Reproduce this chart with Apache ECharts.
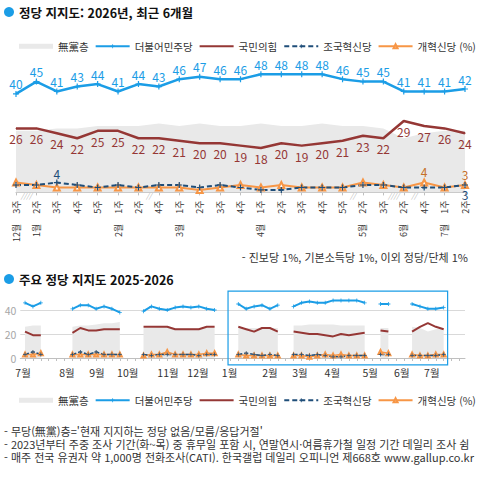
<!DOCTYPE html>
<html lang="ko">
<head>
<meta charset="UTF-8">
<title>정당 지지도</title>
<style>
    html, body { margin: 0; padding: 0; background: #fff; }
    #chart { width: 482px; height: 477px; }
</style>
<script src="https://cdn.jsdelivr.net/npm/echarts@6/dist/echarts.min.js"></script>
</head>
<body>
<div id="chart"></div>
<script>
var FONT = '"Noto Sans CJK KR", "Noto Sans", sans-serif';

// ---- top chart: 최근 6개월 (weekly) ----
var weekNames  = ['3주','2주','3주','4주','5주','1주','2주','4주','1주','2주','3주','4주','1주','2주','3주','4주','5주','2주','3주','2주','4주','1주','2주'];
var monthNames = ['12월','1월','','','','2월','','','3월','','','','4월','','','','','5월','','6월','','7월',''];
var muDang  = [25,25,26,26,27,27,27,28,27,28,27,27,28,27,27,28,27,27,26,22,24,25,25];
var minju   = [40,45,41,43,44,41,44,43,46,47,46,46,48,48,48,48,46,45,45,41,41,41,42];
var ppp     = [26,26,24,22,25,25,22,22,21,20,20,19,18,20,19,20,21,23,22,29,27,26,24];
var joguk   = [3,3,4,3,2,3,2,3,3,2,3,2,1,1,2,2,2,3,3,2,2,2,3];
var gaehyuk = [4,3,2,2,2,2,2,2,2,1,2,3,2,3,2,2,2,4,3,2,4,2,3];
var jogukLabeled   = [2, 22];
var gaehyukLabeled = [20, 22];
// skipped survey weeks (after index i)
var gapAfter = [0, 6, 16, 18, 19];
var gapText  = ['////', '//', '//', '////', '//'];

// ---- bottom chart: 2025-2026 trend ----
var trendWeeks = [0,1,2, 6,7,8,9,10,11,12, 15,16,17,18,19,20,21,22,23,24,
                  27,28,29,30,31,32, 34,35,36,37,38,39,40,41,42,43, 45,46, 49,50,51,52,53];
var trendMuDang  = [26,27,27, 26,27,27,28,29,29,30, 25,25,26,26,25,25,25,25,25,25,
                    25,25,25,25,25,25, 27,27,28,28,28,28,27,27,27,27, 25,25, 26,25,22,24,25];
var trendMinju   = [46,43,46, 41,44,44,41,43,41,38, 39,43,41,40,42,43,42,43,41,40,
                    45,41,43,44,41,44, 43,46,47,46,46,48,48,48,48,46, 45,45, 45,43,41,41,42];
var trendPpp     = [22,19,19, 21,25,23,23,24,24,24, 26,26,26,26,24,24,24,24,26,26,
                    26,24,22,25,25,22, 22,21,20,20,19,18,20,19,20,21, 23,22, 22,26,29,26,24];
var trendJoguk   = [3,5,3, 3,5,3,5,3,3,3, 3,2,3,3,3,3,3,2,3,3,
                    3,4,3,2,3,2, 3,3,2,3,2,1,1,2,2,2, 3,3, 2,2,2,2,3];
var trendGaehyuk = [3,3,4, 3,3,3,3,3,3,3, 2,3,3,5,3,3,3,3,4,4,
                    3,2,2,2,2,2, 2,2,1,2,3,2,3,2,2,2, 5,4, 3,2,2,3,3];
var trendMonths   = ['7월','8월','9월','10월','11월','12월','1월','2월','3월','4월','5월','6월','7월'];
var trendMonthPos = [-0.25, 5.3, 9.1, 13.0, 18.1, 21.9, 25.9, 31.0, 34.8, 38.9, 43.7, 47.7, 51.5];
var boxWeeks  = [25.7, 53.5];
var boxValues = [-5.8, 55.8];

var BLUE = '#1b9de6', RED = '#953735', NAVY = '#1f4e79', ORANGE = '#f79646', GRAY = '#e9e9e9';
var PLUS = 'path://M4,0h2v4h4v2h-4v4h-2v-4h-4v-2h4z';

var lastWeek = trendWeeks[trendWeeks.length - 1];
var tickWeeks = [];
for (var t = 0; t <= 55; t++) tickWeeks.push(t);

function trendData(values) {
    var out = [];
    for (var w = 0; w <= lastWeek; w++) {
        var k = trendWeeks.indexOf(w);
        out.push([w, k < 0 ? '-' : values[k]]);
    }
    return out;
}

function pickLabels(values, shown, pos) {
    return values.map(function (v, i) {
        var j = shown.indexOf(i);
        if (j < 0) return v;
        return { value: v, label: { show: true, position: pos[j] } };
    });
}

var categories = weekNames.map(function (w, i) {
    return monthNames[i] ? monthNames[i] + '    ' + w : w;
});

var legendData = [
    { name: '無黨층', icon: 'rect', itemStyle: { color: GRAY } },
    { name: '더불어민주당' },
    { name: '국민의힘', itemStyle: { opacity: 0 } },
    { name: '조국혁신당' },
    { name: '개혁신당' }
];
function legend(top) {
    return {
        top: top, left: 14, itemWidth: 34, itemHeight: 5, itemGap: 6,
        data: legendData, selectedMode: false,
        textStyle: { fontFamily: FONT, fontSize: 10.5, color: '#333' },
        formatter: function (name) { return name === '개혁신당' ? '개혁신당 (%)' : name; }
    };
}

// footnotes as one block of lines
var footLines = [
    "- 무당(無黨)층='현재 지지하는 정당 없음/모름/응답거절'",
    '- 2023년부터 주중 조사 기간(화~목) 중 휴무일 포함 시, 연말연시·여름휴가철 일정 기간 데일리 조사 쉼',
    '- 매주 전국 유권자 약 1,000명 전화조사(CATI). 한국갤럽 데일리 오피니언 제668호 www.gallup.co.kr'
];

var chart = echarts.init(document.getElementById('chart'), null, { renderer: 'svg' });

var option = {
    animation: false,
    backgroundColor: '#fff',
    textStyle: { fontFamily: FONT },
    legend: [legend(36), legend(390)],
    grid: [
        { left: 16, right: 17, top: 57, height: 135.4, outerBoundsMode: 'none' },
        { left: 20.3, right: 17, top: 292, height: 66, outerBoundsMode: 'none' }
    ],
    xAxis: [{
        type: 'category', gridIndex: 0, data: categories, boundaryGap: false,
        axisLine: { lineStyle: { color: '#bfbfbf' } },
        axisTick: { interval: 0, length: 3, lineStyle: { color: '#bfbfbf' } },
        axisLabel: { interval: 0, rotate: 90, margin: 8, fontSize: 9, color: '#333', fontFamily: FONT },
        splitLine: { show: false }
    }, {
        type: 'value', gridIndex: 1, min: -0.6, max: 55.7,
        axisLine: { lineStyle: { color: '#bfbfbf' } },
        axisTick: { show: true, length: 3, customValues: tickWeeks, lineStyle: { color: '#bfbfbf' } },
        axisLabel: {
            customValues: trendMonthPos, margin: 9, fontSize: 10.5, color: '#333', fontFamily: FONT,
            formatter: function (v) {
                var best = 0;
                for (var i = 1; i < trendMonthPos.length; i++) {
                    if (Math.abs(trendMonthPos[i] - v) < Math.abs(trendMonthPos[best] - v)) best = i;
                }
                return trendMonths[best];
            }
        },
        splitLine: { show: false }
    }],
    yAxis: [{
        type: 'value', gridIndex: 0, min: 0, max: 55, show: false
    }, {
        type: 'value', gridIndex: 1, min: 0, max: 55,
        axisLine: { show: false },
        axisTick: { show: false, customValues: [0, 20, 40] },
        axisLabel: { customValues: [0, 20, 40], margin: 4, fontSize: 10.5, color: '#a6a6a6', fontFamily: FONT },
        splitLine: { show: true, lineStyle: { color: '#d9d9d9' } }
    }],
    series: [
        // top
        {
            name: '無黨층', type: 'line', xAxisIndex: 0, yAxisIndex: 0, data: muDang,
            symbol: 'none', silent: true, itemStyle: { color: GRAY },
            lineStyle: { width: 0, opacity: 0 }, areaStyle: { color: GRAY, opacity: 1 }
        },
        {
            name: '개혁신당', type: 'line', xAxisIndex: 0, yAxisIndex: 0,
            data: pickLabels(gaehyuk, gaehyukLabeled, ['top', 'top']),
            symbol: 'emptyTriangle', symbolSize: 6, itemStyle: { color: ORANGE, borderWidth: 1 },
            lineStyle: { color: ORANGE, width: 2 },
            label: { show: false, distance: 1, fontSize: 12, color: '#c5702a', fontFamily: FONT }
        },
        {
            name: '조국혁신당', type: 'line', xAxisIndex: 0, yAxisIndex: 0,
            data: pickLabels(joguk, jogukLabeled, ['top', 'bottom']),
            symbol: PLUS, symbolSize: 6, itemStyle: { color: NAVY },
            lineStyle: { color: NAVY, width: 2, type: [5, 3] },
            label: { show: false, distance: 0, fontSize: 12, color: NAVY, fontFamily: FONT }
        },
        {
            name: '국민의힘', type: 'line', xAxisIndex: 0, yAxisIndex: 0, data: ppp,
            symbol: 'circle', symbolSize: 1, itemStyle: { color: RED },
            lineStyle: { color: RED, width: 2.5 },
            label: { show: true, position: 'bottom', distance: 4, fontSize: 12, color: RED, fontFamily: FONT }
        },
        {
            name: '더불어민주당', type: 'line', xAxisIndex: 0, yAxisIndex: 0, data: minju,
            symbol: PLUS, symbolSize: 6, itemStyle: { color: BLUE },
            lineStyle: { color: BLUE, width: 2.5 },
            label: { show: true, position: 'top', distance: 1, fontSize: 12, color: BLUE, fontFamily: FONT }
        },
        // bottom
        {
            name: '無黨층', type: 'line', xAxisIndex: 1, yAxisIndex: 1, data: trendData(trendMuDang),
            symbol: 'none', silent: true, itemStyle: { color: GRAY },
            lineStyle: { width: 0, opacity: 0 }, areaStyle: { color: GRAY, opacity: 1 }
        },
        {
            name: '개혁신당', type: 'line', xAxisIndex: 1, yAxisIndex: 1, data: trendData(trendGaehyuk),
            symbol: 'emptyTriangle', symbolSize: 4, itemStyle: { color: ORANGE, borderWidth: 0.8 },
            lineStyle: { color: ORANGE, width: 1.5 }
        },
        {
            name: '조국혁신당', type: 'line', xAxisIndex: 1, yAxisIndex: 1, data: trendData(trendJoguk),
            symbol: PLUS, symbolSize: 4, itemStyle: { color: NAVY },
            lineStyle: { color: NAVY, width: 1.5, type: [4, 2] }
        },
        {
            name: '국민의힘', type: 'line', xAxisIndex: 1, yAxisIndex: 1, data: trendData(trendPpp),
            symbol: 'none', lineStyle: { color: RED, width: 2 }, itemStyle: { color: RED }
        },
        {
            name: '더불어민주당', type: 'line', xAxisIndex: 1, yAxisIndex: 1, data: trendData(trendMinju),
            symbol: PLUS, symbolSize: 4, itemStyle: { color: BLUE },
            lineStyle: { color: BLUE, width: 2 }
        }
    ],
    graphic: [
        { id: 'dot1', type: 'circle', shape: { cx: 9, cy: 12, r: 5 }, style: { fill: BLUE } },
        { id: 'title1', type: 'text', x: 19, y: 12,
          style: { text: '정당 지지도: 2026년, 최근 6개월', font: 'bold 12.5px ' + FONT, fill: '#111', verticalAlign: 'middle' } },
        { id: 'note1', type: 'text', x: 468, y: 257,
          style: { text: '- 진보당 1%, 기본소득당 1%, 이외 정당/단체 1%', font: '11px ' + FONT, fill: '#333', align: 'right', verticalAlign: 'middle' } },
        { id: 'dot2', type: 'circle', shape: { cx: 9, cy: 279, r: 5 }, style: { fill: BLUE } },
        { id: 'title2', type: 'text', x: 19, y: 279,
          style: { text: '주요 정당 지지도 2025-2026', font: 'bold 12.5px ' + FONT, fill: '#111', verticalAlign: 'middle' } },
        { id: 'foot', type: 'text', x: 4, y: 423.8,
          style: { text: footLines.join('\n'), font: '11px ' + FONT, lineHeight: 13.4, fill: '#333', verticalAlign: 'top' } }
    ]
};

chart.setOption(option);

// overlay: highlight box of the last 6 months and skipped-week marks
var p0 = chart.convertToPixel({ gridIndex: 1 }, [boxWeeks[0], boxValues[1]]);
var p1 = chart.convertToPixel({ gridIndex: 1 }, [boxWeeks[1], boxValues[0]]);
var extra = [{
    id: 'box', type: 'rect', z: 10,
    shape: { x: p0[0], y: p0[1], width: p1[0] - p0[0], height: p1[1] - p0[1] },
    style: { fill: 'none', stroke: BLUE, lineWidth: 1.2 }
}];
var axisY = chart.convertToPixel({ yAxisIndex: 0 }, 0);
gapAfter.forEach(function (i, k) {
    var xa = chart.convertToPixel({ xAxisIndex: 0 }, i);
    var xb = chart.convertToPixel({ xAxisIndex: 0 }, i + 1);
    extra.push({
        id: 'gap' + k, type: 'text', x: (xa + xb) / 2, y: axisY + 0.5,
        style: { text: gapText[k], font: 'italic 7px ' + FONT, fill: '#b0b0b0', align: 'center', verticalAlign: 'top' }
    });
});
chart.setOption({ graphic: extra });
</script>
</body>
</html>
